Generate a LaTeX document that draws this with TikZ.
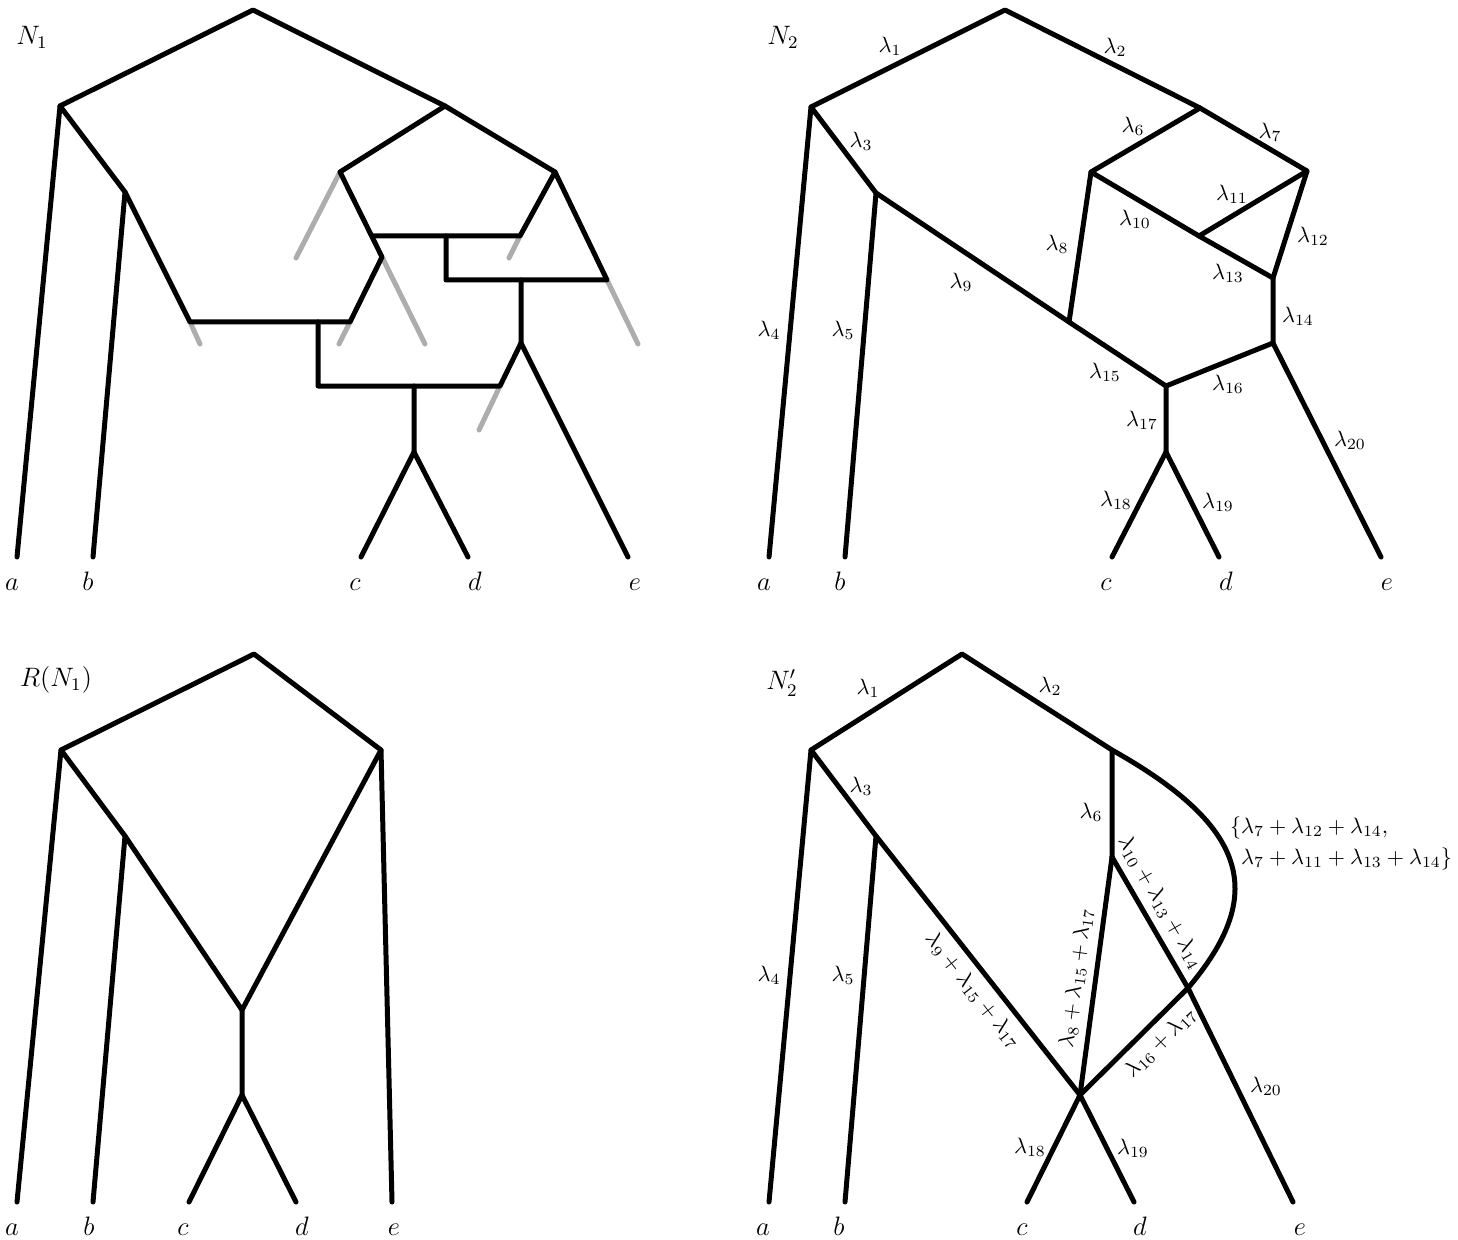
\documentclass[tikz,border=0pt]{standalone}
\definecolor{stubgray}{gray}{0.68}
\tikzset{
  edge/.style={line width=2.25pt, line cap=round, line join=round},
  stub/.style={edge, draw=stubgray},
  lab/.style={inner sep=0pt},
  title/.style={inner sep=0pt, font=\large},
  leaflab/.style={inner sep=0pt, anchor=base, font=\large},
}
\begin{document}
\begin{tikzpicture}[x=0.45pt, y=-0.45pt]
\useasboundingbox (0,0) rectangle (1458,1239);
% ---------- N_1 (top left) ----------
\node[title] (tN1) at (32,37) {$N_1$};
\coordinate (mroot) at (253,10);
\coordinate (ml) at (60,106);
\coordinate (mr) at (445,106);
\coordinate (mbp) at (125,192);
\coordinate (ma) at (17,557);
\coordinate (mb) at (93,557);
\coordinate (mc) at (361,557);
\coordinate (md) at (468,557);
\coordinate (me) at (628,557);
\coordinate (mh1) at (190,322);
\coordinate (mh2) at (350,322);
\coordinate (mk) at (382,257);
\coordinate (ms) at (340,172);
\coordinate (mi) at (372,236);
\coordinate (mj) at (520,236);
\coordinate (mf) at (555,172);
\coordinate (mo) at (446,236);
\coordinate (mo2) at (446,280);
\coordinate (mt) at (607,280);
\coordinate (mt2) at (521,280);
\coordinate (mg) at (521,343);
\coordinate (mp) at (500,386);
\coordinate (mq) at (318,322);
\coordinate (mq2) at (318,386);
\coordinate (mu) at (414,386);
\coordinate (mv) at (414,452);
% removed reticulation edges (grey stubs)
\coordinate (mx1) at (200,344);
\coordinate (mx2) at (339,344);
\coordinate (mx3) at (296,258);
\coordinate (mx4) at (425,344);
\coordinate (mx5) at (509,258);
\coordinate (mx6) at (638,344);
\coordinate (mx7) at (479,430);
\draw[stub] (mh1) -- (mx1);
\draw[stub] (mh2) -- (mx2);
\draw[stub] (ms) -- (mx3);
\draw[stub] (mk) -- (mx4);
\draw[stub] (mj) -- (mx5);
\draw[stub] (mt) -- (mx6);
\draw[stub] (mp) -- (mx7);
% tree edges
\draw[edge] (ma) -- (ml) -- (mroot) -- (mr) -- (mf) -- (mt) -- (mo2) -- (mo);
\draw[edge] (ml) -- (mbp) -- (mb);
\draw[edge] (mbp) -- (mh1) -- (mh2) -- (mk) -- (ms) -- (mr);
\draw[edge] (mi) -- (mj) -- (mf);
\draw[edge] (mt2) -- (mg) -- (me);
\draw[edge] (mg) -- (mp) -- (mq2) -- (mq);
\draw[edge] (mu) -- (mv) -- (mc);
\draw[edge] (mv) -- (md);
\node[leaflab] (mla) at (12,590) {$a$};
\node[leaflab] (mlb) at (88,590) {$b$};
\node[leaflab] (mlc) at (355,590) {$c$};
\node[leaflab] (mld) at (475,590) {$d$};
\node[leaflab] (mle) at (635,590) {$e$};
% ---------- N_2 (top right) ----------
\node[title] (tN2) at (783,37) {$N_2$};
\coordinate (nroot) at (1005,10);
\coordinate (nl) at (811,107);
\coordinate (nr) at (1200,108);
\coordinate (nbp) at (876,193);
\coordinate (nu) at (1091,172);
\coordinate (nv) at (1307,171);
\coordinate (nw) at (1069,322);
\coordinate (nx) at (1199,236);
\coordinate (ny) at (1273,278);
\coordinate (nz) at (1273,343);
\coordinate (np) at (1166,386);
\coordinate (nq) at (1166,452);
\coordinate (na) at (769,557);
\coordinate (nb) at (845,557);
\coordinate (nc) at (1112,557);
\coordinate (nd) at (1219,557);
\coordinate (ne) at (1381,557);
\draw[edge] (na) -- (nl) -- (nroot) -- (nr) -- (nv) -- (ny) -- (nz) -- (ne);
\draw[edge] (nl) -- (nbp) -- (nb);
\draw[edge] (nbp) -- (nw) -- (np) -- (nz);
\draw[edge] (nr) -- (nu) -- (nw);
\draw[edge] (nu) -- (nx) -- (ny);
\draw[edge] (nx) -- (nv);
\draw[edge] (np) -- (nq) -- (nc);
\draw[edge] (nq) -- (nd);
\node[lab] (n1) at (890,46) {$\lambda_1$};
\node[lab] (n2) at (1115,47) {$\lambda_2$};
\node[lab] (n3) at (861,141) {$\lambda_3$};
\node[lab] (n4) at (769,330) {$\lambda_4$};
\node[lab] (n5) at (843,330) {$\lambda_5$};
\node[lab] (n6) at (1133,126) {$\lambda_6$};
\node[lab] (n7) at (1270,132) {$\lambda_7$};
\node[lab] (n8) at (1057,244) {$\lambda_8$};
\node[lab] (n9) at (961,282) {$\lambda_9$};
\node[lab] (n10) at (1135,219) {$\lambda_{10}$};
\node[lab] (n11) at (1232,194) {$\lambda_{11}$};
\node[lab] (n12) at (1313,236) {$\lambda_{12}$};
\node[lab] (n13) at (1228,273) {$\lambda_{13}$};
\node[lab] (n14) at (1298,316) {$\lambda_{14}$};
\node[lab] (n15) at (1105,372) {$\lambda_{15}$};
\node[lab] (n16) at (1228,384) {$\lambda_{16}$};
\node[lab] (n17) at (1142,420) {$\lambda_{17}$};
\node[lab] (n18) at (1116,500) {$\lambda_{18}$};
\node[lab] (n19) at (1218,502) {$\lambda_{19}$};
\node[lab] (n20) at (1350,440) {$\lambda_{20}$};
\node[leaflab] (nla) at (764,590) {$a$};
\node[leaflab] (nlb) at (840,590) {$b$};
\node[leaflab] (nlc) at (1106,590) {$c$};
\node[leaflab] (nld) at (1226,590) {$d$};
\node[leaflab] (nle) at (1387,590) {$e$};
% ---------- R(N_1) (bottom left) ----------
\node[title] (tR) at (56,680) {$R(N_1)$};
\coordinate (rroot) at (254,654);
\coordinate (rl) at (61,750);
\coordinate (rr) at (381,750);
\coordinate (rbp) at (125,836);
\coordinate (rm) at (242,1010);
\coordinate (rq) at (242,1095);
\coordinate (ra) at (17,1202);
\coordinate (rb) at (93,1202);
\coordinate (rc) at (189,1202);
\coordinate (rd) at (296,1202);
\coordinate (re) at (392,1202);
\draw[edge] (ra) -- (rl) -- (rroot) -- (rr) -- (re);
\draw[edge] (rl) -- (rbp) -- (rb);
\draw[edge] (rbp) -- (rm) -- (rr);
\draw[edge] (rm) -- (rq) -- (rc);
\draw[edge] (rq) -- (rd);
\node[leaflab] (rla) at (12,1235) {$a$};
\node[leaflab] (rlb) at (89,1235) {$b$};
\node[leaflab] (rlc) at (183,1235) {$c$};
\node[leaflab] (rld) at (302,1235) {$d$};
\node[leaflab] (rle) at (394,1235) {$e$};
% ---------- N_2' (bottom right) ----------
\node[title] (tN2p) at (782,683) {$N_2'$};
\coordinate (proot) at (962,654);
\coordinate (pl) at (811,750);
\coordinate (pr) at (1112,750);
\coordinate (pbp) at (876,836);
\coordinate (pu) at (1112,857);
\coordinate (px) at (1188,988);
\coordinate (pw) at (1080,1095);
\coordinate (pa) at (769,1202);
\coordinate (pb) at (845,1202);
\coordinate (pc) at (1027,1202);
\coordinate (pd) at (1134,1202);
\coordinate (pe) at (1293,1202);
\draw[edge] (pa) -- (pl) -- (proot) -- (pr) -- (pu);
\draw[edge] (pl) -- (pbp) -- (pb);
\draw[edge] (pbp) -- node[sloped, below, pos=0.55] (p9) {$\lambda_9+\lambda_{15}+\lambda_{17}$} (pw);
\draw[edge] (pw) -- node[sloped, above, pos=0.48] (p8) {$\lambda_8+\lambda_{15}+\lambda_{17}$} (pu);
\draw[edge] (pu) -- node[sloped, above, pos=0.42] (p10) {$\lambda_{10}+\lambda_{13}+\lambda_{14}$} (px);
\draw[edge] (pw) -- node[sloped, below, pos=0.62] (p16) {$\lambda_{16}+\lambda_{17}$} (px);
\draw[edge] (pr) .. controls (1251,828) and (1266,896) .. (px);
\draw[edge] (px) -- (pe);
\draw[edge] (pc) -- (pw) -- (pd);
\node[lab] (p1) at (868,688) {$\lambda_1$};
\node[lab] (p2) at (1050,686) {$\lambda_2$};
\node[lab] (p3) at (861,786) {$\lambda_3$};
\node[lab] (p4) at (769,975) {$\lambda_4$};
\node[lab] (p5) at (843,975) {$\lambda_5$};
\node[lab] (p6) at (1091,812) {$\lambda_6$};
\node[lab] (p18) at (1030,1147) {$\lambda_{18}$};
\node[lab] (p19) at (1133,1148) {$\lambda_{19}$};
\node[lab] (p20) at (1266,1086) {$\lambda_{20}$};
\node[lab, align=left] (pcurve) at (1341,843)
  {$\{\lambda_7+\lambda_{12}+\lambda_{14},$\\[2pt]
   $\phantom{\{}\lambda_7+\lambda_{11}+\lambda_{13}+\lambda_{14}\}$};
\node[leaflab] (pla) at (763,1235) {$a$};
\node[leaflab] (plb) at (839,1235) {$b$};
\node[leaflab] (plc) at (1022,1235) {$c$};
\node[leaflab] (pld) at (1140,1235) {$d$};
\node[leaflab] (ple) at (1300,1235) {$e$};
\end{tikzpicture}
\end{document}
